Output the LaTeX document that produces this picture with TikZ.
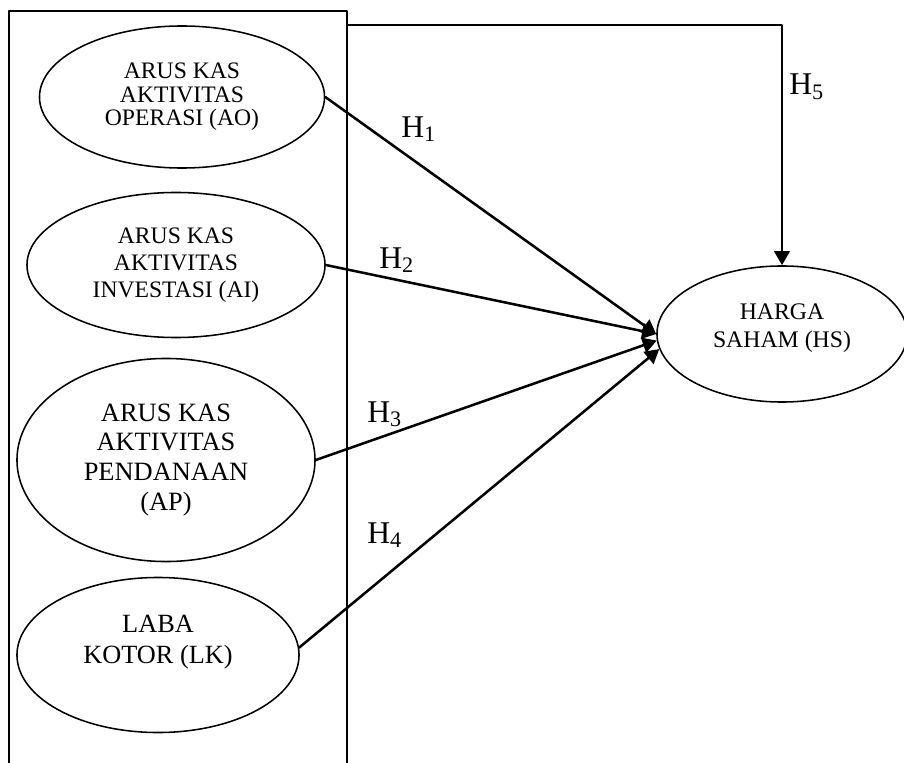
\documentclass[tikz,border=0pt]{standalone}
\usepackage{fontspec}
\setmainfont{Liberation Serif}
\usetikzlibrary{shapes.geometric,arrows.meta}

\begin{document}
\begin{tikzpicture}[line cap=round,line join=round,>={Triangle[length=10pt,width=11pt]},x=0.025cm,y=-0.025cm,
	var/.style={draw,ellipse,line width=1.1pt,inner sep=0pt,align=center},
	hyp/.style={->,line width=1.8pt},
	hlabel/.style={anchor=base west,inner sep=0pt,font=\fontsize{22.5}{24}\selectfont}]
			\useasboundingbox (0,0) rectangle (904,763);
			\clip (0,0) rectangle (904,763);
			\draw [line width=1.3pt] (9,763)-- (9,11)-- (347,11)-- (347,763);
			\coordinate (boxtop) at (347,25);
			\node[var,minimum width=7.125cm,minimum height=3.55cm,font=\fontsize{16.8}{16.7}\selectfont] (ao) at (182,97) {ARUS KAS\\AKTIVITAS\\OPERASI (AO)};
			\node[var,minimum width=7.45cm,minimum height=3.625cm,font=\fontsize{16.8}{19}\selectfont] (ai) at (176,265) {ARUS KAS\\AKTIVITAS\\INVESTASI (AI)};
			\node[var,minimum width=7.45cm,minimum height=5.075cm,font=\fontsize{18.8}{21.3}\selectfont] (ap) at (166,460) {ARUS KAS\\AKTIVITAS\\PENDANAAN\\(AP)};
			\node[var,minimum width=7.05cm,minimum height=3.875cm,font=\fontsize{18.7}{22}\selectfont] (lk) at (158,655) {LABA\\KOTOR (LK)\\\mbox{}};
			\node[var,minimum width=6.25cm,minimum height=3.4cm,font=\fontsize{16.9}{20}\selectfont] (hs) at (782,334) {HARGA\\SAHAM (HS)\\[-8pt]\mbox{}};
			\draw [hyp] (ao.east)-- (hs.west);
			\draw [hyp] (ai.east)-- (hs.west);
			\draw [hyp] (ap.east)-- (hs.183);
			\draw [hyp] (lk.3)-- (hs.187);
			\draw [hyp] (boxtop) -| (hs.north);
			\node[hlabel] (h1) at (401,137) {H\textsubscript{1}};
			\node[hlabel] (h2) at (379,268) {H\textsubscript{2}};
			\node[hlabel] (h3) at (367,422) {H\textsubscript{3}};
			\node[hlabel] (h4) at (367,543) {H\textsubscript{4}};
			\node[hlabel] (h5) at (789,95) {H\textsubscript{5}};
		\end{tikzpicture}
\end{document}
